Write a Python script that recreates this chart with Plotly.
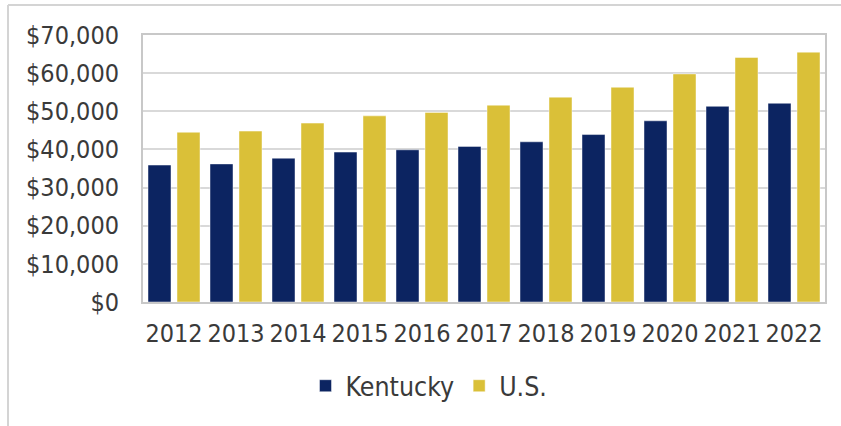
import plotly.graph_objects as go

years = ["2012", "2013", "2014", "2015", "2016", "2017", "2018", "2019", "2020", "2021", "2022"]
kentucky = [35900, 36200, 37700, 39300, 39900, 40800, 42000, 43900, 47500, 51300, 52100]
us = [44500, 44800, 46900, 48800, 49700, 51600, 53700, 56300, 59800, 64100, 65500]
y_ticks = [0, 10000, 20000, 30000, 40000, 50000, 60000, 70000]
y_tick_labels = ["$0", "$10,000", "$20,000", "$30,000", "$40,000", "$50,000", "$60,000", "$70,000"]

NAVY = "#0C2461"
GOLD = "#DAC038"
FONT = "DejaVu Sans Condensed"
TXT = "#3a3a3a"

fig = go.Figure()
fig.add_trace(go.Bar(x=years, y=kentucky, name="Kentucky",
                     marker=dict(color=NAVY, line=dict(color="rgba(255,255,255,0.45)", width=1))))
fig.add_trace(go.Bar(x=years, y=us, name="U.S.",
                     marker=dict(color=GOLD, line=dict(color="rgba(255,255,255,0.45)", width=1))))

W, H = 841, 426
L, R, T, B = 143, 16, 35, 124
pw, ph = W - L - R, H - T - B

def px_x(p):
    return (p - L) / pw

def px_y(p):
    return (H - B - p) / ph

frame = "#d4d4d4"
shapes = [
    dict(type="line", xref="paper", yref="paper", x0=px_x(8), x1=px_x(8), y0=px_y(5), y1=px_y(440),
         line=dict(color=frame, width=2)),
    dict(type="line", xref="paper", yref="paper", x0=px_x(8), x1=px_x(850), y0=px_y(5), y1=px_y(5),
         line=dict(color=frame, width=2)),
]

fig.update_layout(
    width=W, height=H,
    margin=dict(l=L, r=R, t=T, b=B, pad=0),
    paper_bgcolor="white", plot_bgcolor="white",
    barmode="group", bargap=0.0645, bargroupgap=0.207,
    font=dict(family=FONT, size=25, color=TXT),
    showlegend=True,
    legend=dict(orientation="h", x=px_x(429), xanchor="center", y=px_y(386), yanchor="middle",
                font=dict(family=FONT, size=26.5, color=TXT), traceorder="normal"),
    shapes=shapes,
    xaxis=dict(showgrid=False, showline=True, mirror=True, linecolor="#c8c8c8", linewidth=2,
               ticks="", tickfont=dict(family=FONT, size=25, color=TXT), ticklabelstandoff=8),
    yaxis=dict(range=[0, 70000], tickvals=y_ticks, ticktext=y_tick_labels,
               showgrid=True, gridcolor="#d9d9d9", gridwidth=2,
               showline=True, mirror=True, linecolor="#c8c8c8", linewidth=2,
               zeroline=False, ticks="", tickfont=dict(family=FONT, size=25, color=TXT),
               ticklabelstandoff=17),
)

fig.write_html("out.html", config={"displayModeBar": False},
               post_script="document.body.style.margin='0';document.body.style.overflow='hidden';")
